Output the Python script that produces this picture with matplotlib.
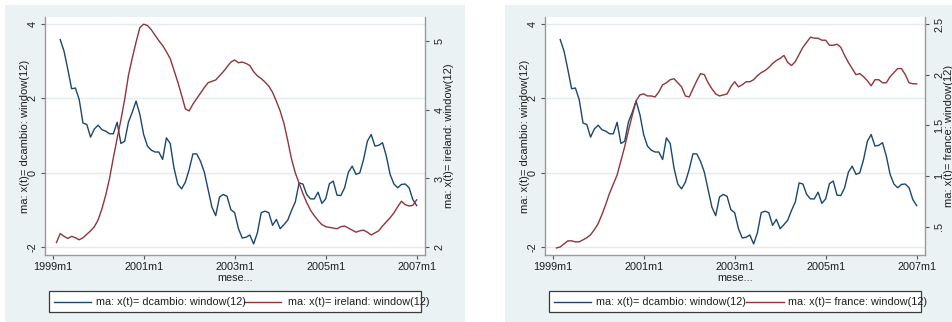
import numpy as np
import matplotlib
matplotlib.use("Agg")
import matplotlib.pyplot as plt
from matplotlib.patches import Rectangle
from matplotlib.lines import Line2D

plt.rcParams['font.family'] = ['Liberation Sans', 'DejaVu Sans']

W, H = 953, 322

# 12-month moving averages; x positions are months counted from 1999m1
dcambio_start = 2
dcambio = [3.58, 3.27, 2.78, 2.26, 2.28, 1.97, 1.34, 1.30, 0.96, 1.18,
           1.28, 1.16, 1.12, 1.05, 1.05, 1.36, 0.79, 0.85, 1.37, 1.63,
           1.93, 1.57, 1.03, 0.72, 0.61, 0.56, 0.56, 0.36, 0.94, 0.79,
           0.13, -0.30, -0.43, -0.25, 0.09, 0.51, 0.51, 0.31, 0.02, -0.45,
           -0.92, -1.15, -0.65, -0.58, -0.63, -0.99, -1.07, -1.50, -1.75, -1.73,
           -1.67, -1.91, -1.61, -1.07, -1.03, -1.07, -1.41, -1.25, -1.50, -1.39,
           -1.27, -1.01, -0.78, -0.27, -0.30, -0.58, -0.70, -0.70, -0.52, -0.82,
           -0.70, -0.29, -0.22, -0.60, -0.61, -0.40, 0.02, 0.18, -0.04, 0.00,
           0.36, 0.85, 1.03, 0.72, 0.74, 0.81, 0.45, -0.04, -0.30, -0.40,
           -0.31, -0.30, -0.40, -0.72, -0.88]

ireland_start = 1
ireland = [2.07, 2.20, 2.16, 2.13, 2.16, 2.14, 2.11, 2.14, 2.19, 2.24,
           2.30, 2.40, 2.56, 2.76, 3.00, 3.30, 3.58, 3.85, 4.15, 4.50,
           4.75, 4.98, 5.19, 5.24, 5.22, 5.16, 5.08, 5.00, 4.93, 4.84,
           4.74, 4.57, 4.40, 4.21, 4.01, 3.98, 4.08, 4.16, 4.24, 4.32,
           4.39, 4.41, 4.43, 4.49, 4.55, 4.62, 4.69, 4.72, 4.68, 4.69,
           4.67, 4.64, 4.55, 4.49, 4.45, 4.40, 4.34, 4.25, 4.12, 3.98,
           3.80, 3.55, 3.28, 3.08, 2.93, 2.78, 2.65, 2.54, 2.46, 2.39,
           2.33, 2.30, 2.29, 2.28, 2.27, 2.30, 2.31, 2.28, 2.25, 2.22,
           2.24, 2.25, 2.22, 2.18, 2.21, 2.24, 2.31, 2.37, 2.43, 2.50,
           2.59, 2.67, 2.62, 2.60, 2.61, 2.69]

france_start = 1
france = [0.29, 0.30, 0.33, 0.36, 0.36, 0.35, 0.35, 0.37, 0.39, 0.42,
          0.47, 0.53, 0.62, 0.72, 0.83, 0.92, 1.01, 1.15, 1.29, 1.45,
          1.60, 1.74, 1.80, 1.81, 1.79, 1.79, 1.78, 1.83, 1.90, 1.92,
          1.95, 1.96, 1.92, 1.88, 1.79, 1.78, 1.86, 1.94, 2.01, 2.00,
          1.92, 1.86, 1.81, 1.79, 1.80, 1.81, 1.88, 1.93, 1.88, 1.90,
          1.93, 1.93, 1.95, 1.99, 2.02, 2.04, 2.07, 2.11, 2.14, 2.16,
          2.19, 2.12, 2.09, 2.13, 2.20, 2.27, 2.32, 2.37, 2.36, 2.36,
          2.34, 2.34, 2.29, 2.29, 2.30, 2.27, 2.19, 2.12, 2.06, 2.00,
          2.01, 1.98, 1.94, 1.89, 1.95, 1.95, 1.92, 1.92, 1.98, 2.02,
          2.06, 2.06, 2.00, 1.92, 1.91, 1.91]

x_ticks = [0, 24, 48, 72, 96]
x_tick_labels = ["1999m1", "2001m1", "2003m1", "2005m1", "2007m1"]
left_ticks = [-2, 0, 2, 4]
left_tick_labels = ["-2", "0", "2", "4"]
ireland_ticks = [2, 3, 4, 5]
ireland_tick_labels = ["2", "3", "4", "5"]
france_ticks = [0.5, 1, 1.5, 2, 2.5]
france_tick_labels = [".5", "1", "1.5", "2", "2.5"]

left_title = "ma: x(t)= dcambio: window(12)"
ireland_title = "ma: x(t)= ireland: window(12)"
france_title = "ma: x(t)= france: window(12)"
x_title = "mese..."

BLUE = '#1a476f'
RED = '#90353b'
BG = '#eaf2f3'
GRID = '#e3ecee'
AXC = '#9a9a9a'
TICKC = '#555555'
TXT = '#1e1e1e'
FS = 7.8

fig = plt.figure(figsize=(W / 100, H / 100), dpi=100)
fig.patch.set_facecolor('white')


def fx(x):
    return x / W


def fy(y):
    return 1 - y / H


def months(start, values):
    return np.arange(start, start + len(values))


def panel(ox, right_vals, right_start, right_ticks, right_tick_labels,
          right_lim, right_title, red_sample_x, red_text_x):
    # grey-blue graph region behind the white plot region
    fig.add_artist(Rectangle((fx(ox + 5), 0), 460 / W, (H - 5) / H,
                             transform=fig.transFigure, facecolor=BG,
                             edgecolor='none', zorder=0))

    ax = fig.add_axes([fx(ox + 45), fy(255), 380 / W, 238 / H])
    ax.set_facecolor('white')
    ax.set_zorder(1)
    ax.set_xlim(-2.02, 98.2)
    ax.set_ylim(-2.207, 4.188)
    ax.plot(months(dcambio_start, dcambio), dcambio, color=BLUE, lw=1.0)
    ax.set_yticks(left_ticks)
    ax.set_yticklabels(left_tick_labels, rotation=90, va='center')
    ax.set_xticks(x_ticks)
    ax.set_xticklabels(x_tick_labels)
    ax.yaxis.grid(True, color=GRID, lw=1.0)
    ax.set_axisbelow(True)
    for s in ('top', 'right'):
        ax.spines[s].set_visible(False)
    for s in ('left', 'bottom'):
        ax.spines[s].set_color(AXC)
        ax.spines[s].set_linewidth(1.0)
    ax.tick_params(axis='both', direction='out', length=3, width=0.8,
                   color=TICKC, labelsize=FS, labelcolor=TXT)
    ax.tick_params(axis='y', pad=2.2)
    ax.tick_params(axis='x', pad=2.0)

    ax2 = ax.twinx()
    ax2.set_ylim(*right_lim)
    ax2.plot(months(right_start, right_vals), right_vals, color=RED, lw=1.0)
    ax2.set_yticks(right_ticks)
    ax2.set_yticklabels(right_tick_labels, rotation=90, va='center')
    for s in ('top', 'left', 'bottom'):
        ax2.spines[s].set_visible(False)
    ax2.spines['right'].set_color(AXC)
    ax2.spines['right'].set_linewidth(1.0)
    ax2.tick_params(axis='y', direction='out', length=3, width=0.8,
                    color=TICKC, labelsize=FS, labelcolor=TXT, pad=3.8)

    # axis titles
    fig.text(fx(ox + 25), fy(136), left_title, rotation=90, ha='center',
             va='center', fontsize=8, color=TXT)
    fig.text(fx(ox + 449), fy(136), right_title, rotation=90, ha='center',
             va='center', fontsize=8, color=TXT)
    fig.text(fx(ox + 235), fy(278), x_title, ha='center', va='center',
             fontsize=FS, color=TXT)

    # legend box
    fig.add_artist(Rectangle((fx(ox + 49), fy(312)), 372 / W, 21 / H,
                             transform=fig.transFigure, facecolor='white',
                             edgecolor='#3a3a3a', lw=0.9, zorder=2))
    ly = fy(302)
    fig.add_artist(Line2D([fx(ox + 54), fx(ox + 91)], [ly, ly],
                          transform=fig.transFigure, color=BLUE, lw=1.0,
                          zorder=3))
    fig.text(fx(ox + 96), ly, left_title, ha='left', va='center',
             fontsize=FS, color=TXT, zorder=3)
    fig.add_artist(Line2D([fx(ox + red_sample_x), fx(ox + red_sample_x + 37)],
                          [ly, ly], transform=fig.transFigure, color=RED,
                          lw=1.0, zorder=3))
    fig.text(fx(ox + red_text_x), ly, right_title, ha='left', va='center',
             fontsize=FS, color=TXT, zorder=3)


panel(0, ireland, ireland_start, ireland_ticks, ireland_tick_labels,
      (1.889, 5.344), ireland_title, 244.5, 287.5)
panel(500, france, france_start, france_ticks, france_tick_labels,
      (0.2204, 2.569), france_title, 246.5, 288.5)

fig.savefig("out.png", dpi=100, facecolor='white')
